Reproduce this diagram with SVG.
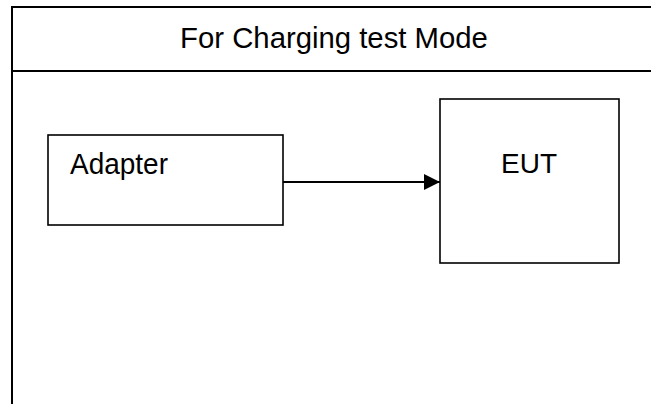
<svg xmlns="http://www.w3.org/2000/svg" width="651" height="404" viewBox="0 0 651 404">
<style>
.frame{stroke:#000;stroke-width:2;fill:none}
.box{stroke:#000;stroke-width:1.6;fill:#fff}
.t{font-family:"Liberation Sans",Arial,sans-serif;fill:#000}
</style>
<defs>
<marker id="ah" markerWidth="16" markerHeight="16" refX="16" refY="8" orient="auto" markerUnits="userSpaceOnUse">
<path d="M0,0 L16,8 L0,16 Z" fill="#000"/>
</marker>
</defs>
<rect width="651" height="404" fill="#fff"/>
<g id="frame">
<path class="frame" d="M12,404 V7 H651 M12,71 H651"/>
<text class="t" x="334" y="48" font-size="29.3" text-anchor="middle">For Charging test Mode</text>
</g>
<g id="connectors">
<line x1="283" y1="182" x2="440" y2="182" stroke="#000" stroke-width="2" marker-end="url(#ah)"/>
</g>
<g id="adapter">
<rect class="box" x="48" y="135" width="235" height="90"/>
<text class="t" x="70" y="173.5" font-size="29.5" textLength="98" lengthAdjust="spacingAndGlyphs">Adapter</text>
</g>
<g id="eut">
<rect class="box" x="440" y="99" width="179" height="164"/>
<text class="t" x="529" y="173" font-size="28" text-anchor="middle">EUT</text>
</g>
</svg>
